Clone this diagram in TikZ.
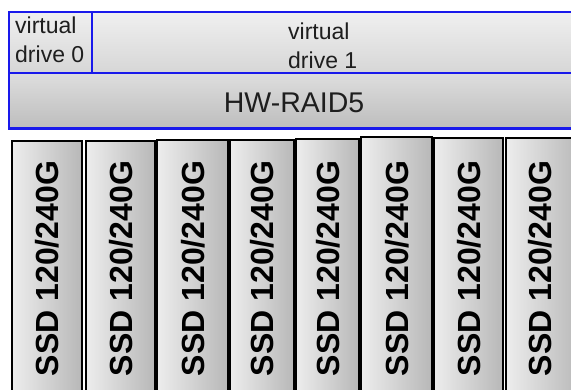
\documentclass[tikz,border=0pt]{standalone}
\usepackage{fontspec}
\setmainfont{Liberation Sans}
\definecolor{raidblue}{RGB}{25,25,235}
\definecolor{txt}{RGB}{30,30,30}
\tikzset{
  cell/.style={draw=raidblue, line width=1.8pt, inner sep=0pt, outer sep=0pt, anchor=north west},
  ssdbox/.style={draw=black, line width=2.6pt, inner sep=0pt, outer sep=0pt, anchor=north west,
     left color=white!93!black, right color=white!72!black, minimum height=270pt},
  ssdlabel/.style={rotate=90, anchor=base, inner sep=0pt, font=\fontsize{32}{36}\selectfont\bfseries, text=black},
  vlabel/.style={anchor=north west, inner sep=0pt, align=left, text=txt, font=\fontsize{23}{28.5}\selectfont},
}
\begin{document}
\begin{tikzpicture}[x=1pt,y=-1pt]
\useasboundingbox (0,0) rectangle (571,390);
% top RAID area
\node[cell, minimum width=83pt, minimum height=61pt, top color=white!94!black, bottom color=white!84!black] (vd0) at (9,12) {};
\node[cell, minimum width=500pt, minimum height=61pt, top color=white!94!black, bottom color=white!84!black] (vd1) at (92,12) {};
\node[cell, minimum width=580pt, minimum height=56pt, top color=white!87!black, bottom color=white!74!black] (raid) at (9,73) {};
\draw[raidblue, line width=2.8pt] (raid.south west) -- (raid.north west) |- (vd1.north east);
\draw[raidblue, line width=3pt] (raid.south west) -- (raid.south east);
\node[vlabel] (t0) at (15,17) {virtual\\drive 0};
\node[vlabel] (t1) at (288,23) {virtual\\drive 1};
\node[anchor=base, inner sep=0pt, text=txt, font=\fontsize{28.5}{32}\selectfont] (traid) at (294,113) {HW-RAID5};
% SSDs
\node[ssdbox, minimum width=70pt] (s1) at (12,141) {};
\node[ssdbox, minimum width=69pt] (s2) at (86,141) {};
\node[ssdbox, minimum width=71pt] (s3) at (157,140) {};
\node[ssdbox, minimum width=64pt] (s4) at (230,140) {};
\node[ssdbox, minimum width=63pt] (s5) at (296,139) {};
\node[ssdbox, minimum width=71pt] (s6) at (361,137) {};
\node[ssdbox, minimum width=69pt] (s7) at (434,138) {};
\node[ssdbox, minimum width=75pt] (s8) at (506,138) {};
\foreach \n/\cx in {1/47,2/120.5,3/192.5,4/262,5/327.5,6/396.5,7/468.5,8/540}{
  \node[ssdlabel] (l\n) at (\cx+11.8,268.5) {SSD 120/240G};
}
\end{tikzpicture}
\end{document}
